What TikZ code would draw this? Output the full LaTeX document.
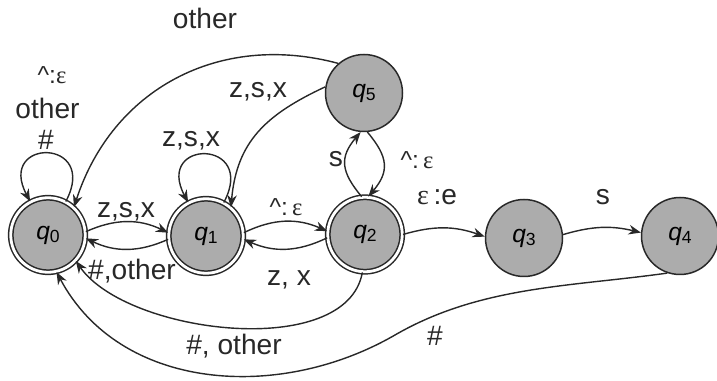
\documentclass[tikz,border=0pt]{standalone}
\usepackage{fontspec}
\setmainfont{Liberation Sans}
\newfontfamily\epsfont{Liberation Serif}
\usetikzlibrary{arrows.meta, positioning}
\definecolor{stategray}{RGB}{172,172,172}
\definecolor{linedark}{RGB}{40,40,40}
\newcommand{\qs}[1]{\textit{q}{\fontsize{10}{12}\selectfont\raisebox{-0.35ex}{#1}}}
\newcommand{\eps}{{\epsfont ε}}
\newcommand{\caretsym}{\textasciicircum}
\tikzset{
  stnode/.style={circle, draw=linedark, fill=stategray, line width=0.85pt,
    minimum size=1.54cm, inner sep=0pt, font=\fontsize{14}{16}\selectfont},
  acnode/.style={stnode, double=white, double distance=1.6pt, minimum size=1.49cm},
  arrow/.style={-{Stealth[length=7pt,width=5.5pt]}, line width=0.8pt, color=linedark},
  lbl/.style={font=\fontsize{16}{18}\selectfont, text=linedark, inner sep=1pt},
  epslbl/.style={font=\fontsize{14}{16}\selectfont, text=linedark, inner sep=1pt}
}
\begin{document}
\begin{tikzpicture}
  \useasboundingbox (0,0) rectangle (14.34,7.62);

  % States
  \node[acnode] (q0) at (0.96,2.92) {\qs{0}};
  \node[acnode] (q1) at (4.12,2.90) {\qs{1}};
  \node[acnode] (q2) at (7.30,2.93) {\qs{2}};
  \node[stnode] (q3) at (10.48,2.86) {\qs{3}};
  \node[stnode] (q4) at (13.60,2.90) {\qs{4}};
  \node[stnode] (q5) at (7.28,5.76) {\qs{5}};
  \coordinate (bend4) at (7.90,0.92);

  % Transitions
  \draw[arrow] (q0.62) to[out=62,in=118,looseness=5.2] (q0.118);
  \draw[arrow] (q1.62) to[out=62,in=118,looseness=5.2] (q1.118);
  \draw[arrow] (q5.131) to[out=165,in=72,looseness=1.05] (q0.47);
  \draw[arrow] (q5.171) to[out=205,in=85,looseness=1.1] (q1.49);
  \draw[arrow] (q2.95) to[out=130,in=230,looseness=1.3] (q5.265);
  \draw[arrow] (q5.275) to[out=-50,in=50,looseness=1.3] (q2.85);
  \draw[arrow] (q0.5) to[bend left=25] (q1.175);
  \draw[arrow] (q1.185) to[bend left=25] (q0.355);
  \draw[arrow] (q1.5) to[bend left=25] (q2.175);
  \draw[arrow] (q2.185) to[bend left=25] (q1.355);
  \draw[arrow] (q2.0) to[bend left=18] (q3.178);
  \draw[arrow] (q3.5) to[bend left=15] (q4.175);
  \draw[arrow] (q2.-94) to[out=-100,in=-55,looseness=0.8] (q0.-43);
  \draw[arrow] (q4.-109) to[out=188,in=30,looseness=0.9] (bend4)
    to[out=210,in=-62] (q0.-77);

  % Labels
  \node[lbl] (l50) at (4.10,7.26) {other};
  \node[epslbl] (l00a) at (1.04,6.12) {\caretsym:\eps};
  \node[lbl] (l00b) at (0.95,5.46) {other};
  \node[lbl] (l00c) at (0.92,4.82) {\#};
  \node[lbl] (l11) at (3.82,4.80) {z,s,x};
  \node[lbl] (l51) at (5.16,5.78) {z,s,x};
  \node[lbl] (l25) at (6.72,4.44) {s};
  \node[epslbl] (l52) at (8.34,4.42) {\caretsym:\,\eps};
  \node[lbl] (l01) at (2.52,3.38) {z,s,x};
  \node[epslbl] (l12) at (5.72,3.48) {\caretsym:\,\eps};
  \node[lbl] (l23) at (8.74,3.68) {\eps\,:e};
  \node[lbl] (l34) at (12.06,3.67) {s};
  \node[lbl] (l10) at (2.64,2.20) {\#,other};
  \node[lbl] (l21) at (5.78,2.02) {z, x};
  \node[lbl] (l20) at (4.68,0.70) {\#, other};
  \node[lbl] (l40) at (8.70,0.90) {\#};
\end{tikzpicture}
\end{document}
